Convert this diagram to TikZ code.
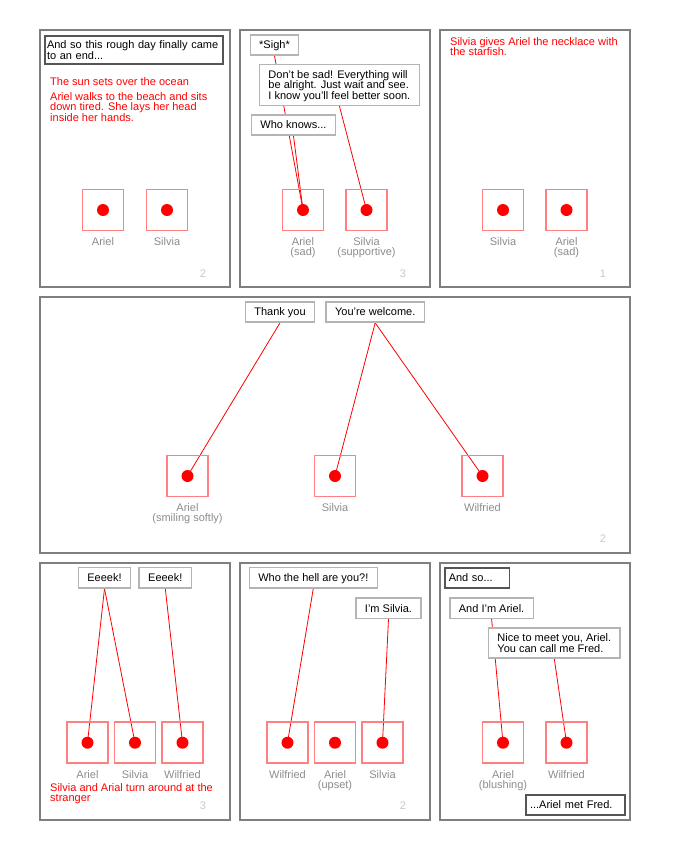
\documentclass[tikz,border=0pt]{standalone}
\usepackage{fontspec}
\setmainfont{Liberation Sans}
\usetikzlibrary{backgrounds}

\definecolor{framegray}{HTML}{7F7F7F}
\definecolor{narrgray}{HTML}{555555}
\definecolor{bubblegray}{HTML}{B4B4B4}
\definecolor{chrpink}{HTML}{FF8080}
\definecolor{lblgray}{HTML}{8C8C8C}
\definecolor{numgray}{HTML}{C8C8C8}

\begin{document}
\begin{tikzpicture}[x=1pt,y=-1pt,font=\fontsize{11}{10.3}\selectfont,
  label distance=6pt,
  panel/.style={draw=framegray,line width=1.8pt},
  narr/.style={draw=narrgray,line width=1.5pt,fill=white,inner xsep=4pt,
    inner ysep=4.6pt,minimum height=20.3pt,align=left},
  bubble/.style={draw=bubblegray,line width=1.4pt,fill=white,inner xsep=9pt,
    inner ysep=6pt,text depth=0pt,minimum height=20.3pt,align=left},
  chr/.style={draw=chrpink,line width=1.5pt,minimum size=41pt,inner sep=0pt,
    path picture={\fill[red] (path picture bounding box.center) circle (6pt);}},
  lbl/.style={text=lblgray,align=center,inner sep=0pt},
  story/.style={text=red,align=left,anchor=north west,inner sep=0pt},
  pnum/.style={text=numgray,inner sep=0pt},
  talk/.style={draw=red,line width=0.8pt}]
  \useasboundingbox (0,0) rectangle (680,860);

  % Panels
  \draw[panel] (40,30) rectangle (230,287);
  \draw[panel] (240,30) rectangle (430,287);
  \draw[panel] (440,30) rectangle (630,287);
  \draw[panel] (40,297) rectangle (630,553);
  \draw[panel] (40,563) rectangle (230,820);
  \draw[panel] (240,563) rectangle (430,820);
  \draw[panel] (440,563) rectangle (630,820);

  % Panel 1
  \node[narr,text width=174pt,inner xsep=2pt] (cap1) at (134,50) {\mbox{And so this rough day finally came}\\to an end...};
  \node[story] (sun) at (50,77.5) {The sun sets over the ocean};
  \node[story] (walk) at (50,92.5) {Ariel walks to the beach and sits\\down tired. She lays her head\\inside her hands.};
  \node[chr,label={[lbl]below:Ariel}] (a1) at (103,210) {};
  \node[chr,label={[lbl]below:Silvia}] (s1) at (167,210) {};
  \node[pnum] (n1) at (203,274) {2};

  % Panel 2
  \node[chr,label={[lbl]below:{Ariel\\(sad)}}] (a2) at (303,210) {};
  \node[chr,label={[lbl]below:{Silvia\\(supportive)}}] (s2) at (366.5,210) {};
  \node[bubble] (sigh) at (274.5,45) {*Sigh*};
  \node[bubble] (sad) at (339.4,85) {Don't be sad! Everything will\\be alright. Just wait and see.\\I know you'll feel better soon.};
  \node[bubble] (knows) at (293.5,125) {Who knows...};
  \node[pnum] (n2) at (403,274) {3};

  % Panel 3
  \node[story] (gift) at (450,37.5) {Silvia gives Ariel the necklace with\\the starfish.};
  \node[chr,label={[lbl]below:Silvia}] (s3) at (503,210) {};
  \node[chr,label={[lbl]below:{Ariel\\(sad)}}] (a3) at (566.5,210) {};
  \node[pnum] (n3) at (603,274) {1};

  % Panel 4
  \node[chr,label={[lbl]below:{Ariel\\(smiling softly)}}] (a4) at (187.5,476) {};
  \node[chr,label={[lbl]below:Silvia}] (s4) at (335,476) {};
  \node[chr,label={[lbl]below:Wilfried}] (w4) at (482.5,476) {};
  \node[bubble] (thank) at (280,312) {Thank you};
  \node[bubble] (welcome) at (375.2,312) {You're welcome.};
  \node[pnum] (n4) at (603,539) {2};

  % Panel 5
  \node[chr,label={[lbl]below:Ariel}] (a5) at (87.5,742.7) {};
  \node[chr,label={[lbl]below:Silvia}] (s5) at (135,742.7) {};
  \node[chr,label={[lbl]below:Wilfried}] (w5) at (182.5,742.7) {};
  \node[bubble] (eek1) at (104.5,577.7) {Eeeek!};
  \node[bubble] (eek2) at (165.3,577.7) {Eeeek!};
  \node[story] (turn) at (50,783) {Silvia and Arial turn around at the\\stranger};
  \node[pnum] (n5) at (203,806) {3};

  % Panel 6
  \node[chr,label={[lbl]below:Wilfried}] (w6) at (287.5,742.7) {};
  \node[chr,label={[lbl]below:{Ariel\\(upset)}}] (a6) at (335,742.7) {};
  \node[chr,label={[lbl]below:Silvia}] (s6) at (382.5,742.7) {};
  \node[bubble] (hell) at (313.3,577.7) {Who the hell are you?!};
  \node[bubble] (imsil) at (388.5,608.2) {I'm Silvia.};
  \node[pnum] (n6) at (403,806) {2};

  % Panel 7
  \node[narr,text width=56.5pt] (andso) at (477,578) {And so...};
  \node[chr,label={[lbl]below:{Ariel\\(blushing)}}] (a7) at (503,742.7) {};
  \node[chr,label={[lbl]below:Wilfried}] (w7) at (566.5,742.7) {};
  \node[bubble] (imari) at (491.6,608.2) {And I'm Ariel.};
  \node[bubble] (nice) at (554.3,643) {Nice to meet you, Ariel.\\You can call me Fred.};
  \node[narr,text width=91pt] (met) at (575.5,805) {...Ariel met Fred.};

  % Sprechlinien
  \begin{scope}[on background layer]
    \draw[talk] (sigh.south) -- (a2.center);
    \draw[talk] (knows.south) -- (a2.center);
    \draw[talk] (sad.south) -- (s2.center);
    \draw[talk] (thank.south) -- (a4.center);
    \draw[talk] (welcome.south) -- (s4.center);
    \draw[talk] (welcome.south) -- (w4.center);
    \draw[talk] (eek1.south) -- (a5.center);
    \draw[talk] (eek1.south) -- (s5.center);
    \draw[talk] (eek2.south) -- (w5.center);
    \draw[talk] (hell.south) -- (w6.center);
    \draw[talk] (imsil.south) -- (s6.center);
    \draw[talk] (imari.south) -- (a7.center);
    \draw[talk] (nice.south) -- (w7.center);
  \end{scope}
\end{tikzpicture}
\end{document}
